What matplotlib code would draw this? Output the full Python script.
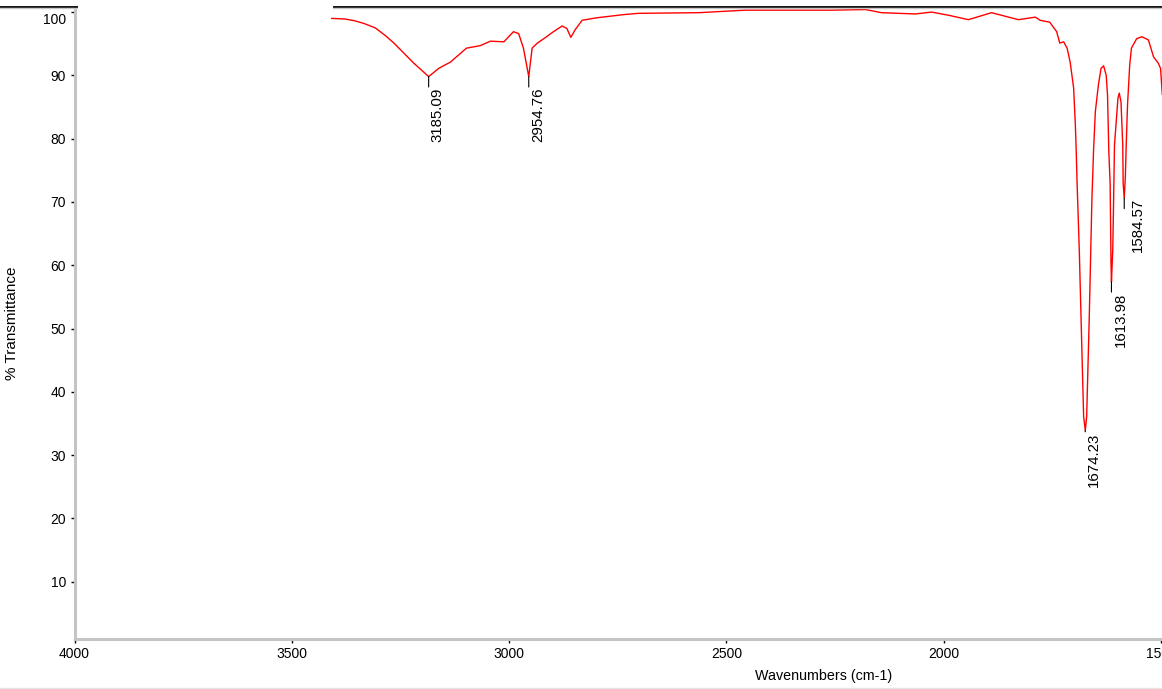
import matplotlib
matplotlib.use("Agg")
import matplotlib.pyplot as plt
import matplotlib.transforms as mtransforms
from matplotlib.lines import Line2D
from matplotlib.patches import Rectangle
from matplotlib.ticker import MultipleLocator

plt.rcParams["font.family"] = ["Liberation Sans", "DejaVu Sans"]

# IR spectrum (wavenumber cm-1, % transmittance)
wavenumber = [
    3408, 3377, 3354, 3334, 3308, 3285, 3265, 3242, 3219, 3201, 3185.09, 3162,
    3135, 3098, 3066, 3043, 3012, 2990, 2978, 2967, 2954.76, 2947, 2935, 2920,
    2898, 2878, 2867, 2858, 2848, 2832, 2798, 2736, 2702, 2564, 2457, 2258,
    2180, 2143, 2065, 2028, 1989, 1943, 1890, 1828, 1789, 1778, 1756, 1740,
    1733, 1724, 1716, 1709, 1701, 1697, 1695, 1693, 1688, 1682, 1678, 1674.23,
    1671, 1665, 1659, 1655, 1651, 1644, 1638, 1632, 1626, 1623, 1620, 1617,
    1615, 1613.98, 1611, 1609, 1607, 1603, 1599, 1596, 1592, 1588, 1587,
    1584.57, 1582, 1580, 1577, 1572, 1568, 1556, 1544, 1529, 1517, 1506, 1501,
    1497,
]
transmittance = [
    99.0, 98.9, 98.6, 98.2, 97.5, 96.3, 95.1, 93.5, 91.9, 90.8, 89.8, 91.1,
    92.1, 94.3, 94.7, 95.4, 95.3, 96.9, 96.6, 94.3, 89.8, 94.3, 95.1, 95.8,
    96.9, 97.8, 97.4, 96.0, 97.2, 98.7, 99.1, 99.6, 99.8, 99.9, 100.3, 100.3,
    100.4, 99.9, 99.7, 100.0, 99.5, 98.8, 99.9, 98.8, 99.2, 98.7, 98.4, 96.9,
    95.1, 95.3, 94.3, 92.1, 88.0, 82.1, 77.9, 72.9, 62.4, 46.6, 36.1, 33.9,
    36.1, 51.9, 70.3, 78.4, 84.3, 88.5, 91.1, 91.5, 90.0, 86.9, 77.9, 72.9,
    60.3, 57.4, 62.4, 70.3, 79.0, 82.7, 86.4, 87.2, 85.8, 79.0, 72.9,
    70.6, 74.0, 79.0, 85.3, 91.6, 94.3, 95.8, 96.1, 95.6, 92.9, 91.9, 91.1,
    87.0,
]

# labelled peaks
peak_wn = [3185.09, 2954.76, 1674.23, 1613.98, 1584.57]
peak_t = [89.8, 89.8, 33.9, 57.4, 70.6]
peak_labels = ["3185.09", "2954.76", "1674.23", "1613.98", "1584.57"]

W, H = 1162, 689
fig = plt.figure(figsize=(W / 100, H / 100), dpi=100)
ax = fig.add_axes([74.5 / W, 1 - 639 / H, 1087.5 / W, 632 / H])

ax.plot(wavenumber, transmittance, color="#ff0000", lw=1.0)

# marker tick length and label offset (points) for each peak label
tick_len = {"1674.23": 1.0}
label_off = {"1584.57": (5.0, 0.0), "1674.23": (1.5, -1.5)}
for wn, t, lab in zip(peak_wn, peak_t, peak_labels):
    tl = tick_len.get(lab, 7.5)
    ax.annotate("", xy=(wn, t), xytext=(0, -tl), textcoords="offset points",
                arrowprops=dict(arrowstyle="-", color="black", lw=0.8,
                                shrinkA=0, shrinkB=0))
    ax.annotate(lab, xy=(wn, t), xytext=label_off.get(lab, (1.5, -8)),
                textcoords="offset points", rotation=90, ha="left", va="top",
                fontsize=10.8, color="black")

ax.set_xlim(4000, 4000 - 1087.5 * 2.301)
ax.set_ylim(0.95, 100.8)

ax.xaxis.set_major_locator(MultipleLocator(500))
ax.xaxis.set_minor_locator(MultipleLocator(100))
ax.yaxis.set_major_locator(MultipleLocator(10))
ax.yaxis.set_minor_locator(MultipleLocator(2))

for side in ["top", "right"]:
    ax.spines[side].set_visible(False)
for side in ["left", "bottom"]:
    ax.spines[side].set_color("#c4c4c4")
    ax.spines[side].set_linewidth(2.2)

ax.tick_params(which="major", direction="out", length=3, width=1,
               color="black", labelsize=10, pad=3)
ax.tick_params(which="minor", direction="inout", length=1.8, width=1.1,
               color="black")

ax.set_xlabel("Wavenumbers (cm-1)", fontsize=10.3)
ax.set_ylabel("% Transmittance", fontsize=11)
ax.xaxis.set_label_coords((824 - 74.5) / 1087.5, -30 / 632)
ax.yaxis.set_label_coords(-55 / 1087.5, 0.5)

# the "100" label sits a bit lower than its tick in the original
fig.canvas.draw()
ticks = ax.yaxis.get_major_ticks()
locs = ax.yaxis.get_majorticklocs()
shift = mtransforms.ScaledTranslation(0, -0.065, fig.dpi_scale_trans)
for tk, loc in zip(ticks, locs):
    if abs(loc - 100) < 1e-6:
        tk.label1.set_transform(tk.label1.get_transform() + shift)
    if loc < 1:
        tk.label1.set_visible(False)

# window frame line at the top, with the blank box over it, and bottom edge
fig.add_artist(Line2D([0, 1], [1 - 6.5 / H] * 2, transform=fig.transFigure,
                      color="black", lw=1.3))
fig.add_artist(Line2D([0, 1], [1 - 8.2 / H] * 2, transform=fig.transFigure,
                      color="#c8c8c8", lw=1))
fig.add_artist(Rectangle((78 / W, 1 - 12 / H), 255 / W, 12 / H,
                         transform=fig.transFigure, facecolor="white",
                         edgecolor="none", zorder=10))
fig.add_artist(Line2D([0, 1], [1 - 687.5 / H] * 2, transform=fig.transFigure,
                      color="#e6e6e6", lw=1))

fig.savefig("out.png", dpi=100)
